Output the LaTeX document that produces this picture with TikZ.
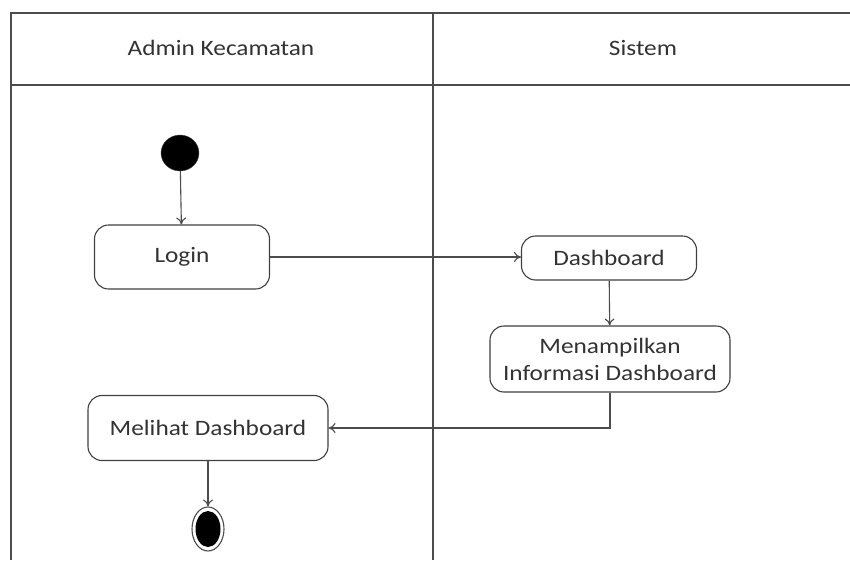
\documentclass[tikz,border=0pt]{standalone}
\usepackage{fontspec}
\setmainfont{Carlito}[FakeStretch=1.15]
\usetikzlibrary{arrows.meta,shapes.geometric}
\begin{document}
\begin{tikzpicture}[x=1pt,y=-1pt,
  lane/.style={draw=black!70, line width=1.2pt},
  act/.style={draw=black!75, line width=1.1pt, rounded corners=14pt, fill=white,
    align=center, text=black!80, font=\fontsize{22}{27}\selectfont, inner sep=0pt},
  flow/.style={draw=black!70, line width=1.1pt, -{To[length=7pt,width=10pt]}},
  lbl/.style={text=black!80, font=\fontsize{22}{27}\selectfont}]
\useasboundingbox (0,0) rectangle (850,560);
\fill[white] (0,0) rectangle (850,560);
% swimlane frame
\draw[lane] (11,560) -- (11,13) -- (850,13);
\draw[lane] (11,85) -- (850,85);
\draw[lane] (433,13) -- (433,560);
\node[lbl] (laneA) at (221,48) {Admin Kecamatan};
\node[lbl] (laneS) at (643,48) {Sistem};
% activities
\node[fill=black, ellipse, minimum width=38pt, minimum height=36pt, inner sep=0pt, draw=black!70] (start) at (180,153) {};
\node[act, minimum width=175pt, minimum height=64pt] (login) at (182,257) {Login};
\node[act, minimum width=175pt, minimum height=44pt] (dash) at (609,258) {Dashboard};
\node[act, minimum width=240pt, minimum height=66pt] (info) at (610,359) {Menampilkan\\Informasi Dashboard};
\node[act, minimum width=240pt, minimum height=65pt] (lihat) at (208,428) {Melihat Dashboard};
\node[draw=black!70, line width=1.1pt, ellipse, minimum width=32pt, minimum height=44pt, inner sep=0pt] (end) at (208,529) {};
\node[fill=black, ellipse, minimum width=25pt, minimum height=36pt, inner sep=0pt] (endin) at (end.center) {};
% transitions
\draw[flow] (start) -- (login);
\draw[flow] (login.east) -- (login.east -| dash.west);
\draw[flow] (dash) -- (info);
\draw[flow] (info.south) |- (lihat.east);
\draw[flow] (lihat.south) -- (end.north);
\end{tikzpicture}
\end{document}
